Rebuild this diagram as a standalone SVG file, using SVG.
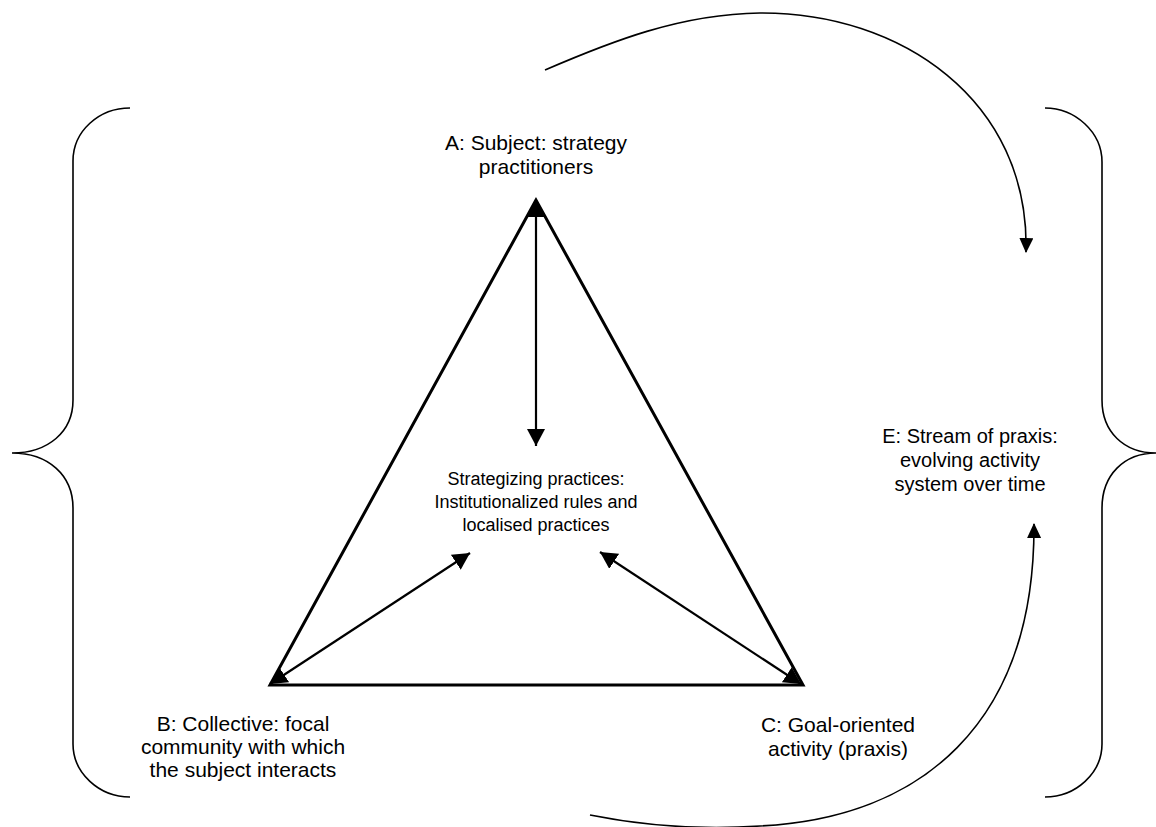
<svg xmlns="http://www.w3.org/2000/svg" width="1156" height="827" viewBox="0 0 1156 827">
  <style>
    .label { font-family: "Liberation Sans", Arial, sans-serif; font-size: 21px; fill: #000; text-anchor: middle; }
    .label-e { font-family: "Liberation Sans", Arial, sans-serif; font-size: 20px; fill: #000; text-anchor: middle; }
    .inner { font-family: "Liberation Sans", Arial, sans-serif; font-size: 18px; fill: #000; text-anchor: middle; }
    .brace { fill: none; stroke: #000; stroke-width: 1.6; }
    .frame { fill: none; stroke: #000; stroke-width: 3; stroke-linejoin: miter; }
    .link { fill: none; stroke: #000; stroke-width: 2.2; }
    .flow { fill: none; stroke: #000; stroke-width: 1.6; }
  </style>
  <defs>
    <marker id="headBig" markerUnits="userSpaceOnUse" markerWidth="18" markerHeight="18" viewBox="0 0 18 18" refX="17" refY="9" orient="auto-start-reverse">
      <path d="M0,0 L17,9 L0,18 z" fill="#000"/>
    </marker>
    <marker id="headSmall" markerUnits="userSpaceOnUse" markerWidth="15" markerHeight="14" viewBox="0 0 15 14" refX="14" refY="7" orient="auto">
      <path d="M0,0 L15,7 L0,14 z" fill="#000"/>
    </marker>
  </defs>

  <!-- outer braces -->
  <g id="brace-left">
    <path class="brace" d="M130,108 C99,108 73,131 73,161 L73,400 C73,432 48,453 12,453 C48,453 73,475 73,508 L73,744 C73,773 99,797 130,797"/>
  </g>
  <g id="brace-right">
    <path class="brace" d="M1045,108 C1075,108 1102,132 1102,162 L1102,400 C1102,432 1124,453 1156,453 C1124,453 1102,475 1102,508 L1102,744 C1102,773 1076,797 1045,797"/>
  </g>

  <!-- activity triangle -->
  <g id="triangle">
    <polygon class="frame" points="536,200 270,685 803,685"/>
  </g>

  <!-- connectors -->
  <g id="connectors">
    <line class="link" x1="536" y1="200" x2="536" y2="446" marker-start="url(#headBig)" marker-end="url(#headBig)"/>
    <line class="link" x1="270" y1="684" x2="470" y2="553" marker-start="url(#headBig)" marker-end="url(#headBig)"/>
    <line class="link" x1="801" y1="684" x2="600" y2="552" marker-start="url(#headBig)" marker-end="url(#headBig)"/>
    <path class="flow" d="M545,70 C610,42 680,14 760,13 C900,12 1030,100 1026,252" marker-end="url(#headSmall)"/>
    <path class="flow" d="M590,815 C640,825 700,830 760,826 C920,818 1035,725 1034,524" marker-end="url(#headSmall)"/>
  </g>

  <!-- labels -->
  <g id="node-a">
    <text class="label" x="536" y="150">A: Subject: strategy</text>
    <text class="label" x="536" y="174">practitioners</text>
  </g>
  <g id="node-center">
    <text class="inner" x="536" y="485">Strategizing practices:</text>
    <text class="inner" x="536" y="508">Institutionalized rules and</text>
    <text class="inner" x="536" y="531">localised practices</text>
  </g>
  <g id="node-b">
    <text class="label" x="243" y="731">B: Collective: focal</text>
    <text class="label" x="243" y="754">community with which</text>
    <text class="label" x="243" y="777">the subject interacts</text>
  </g>
  <g id="node-c">
    <text class="label" x="838" y="732">C: Goal-oriented</text>
    <text class="label" x="838" y="756">activity (praxis)</text>
  </g>
  <g id="node-e">
    <text class="label-e" x="970" y="443">E: Stream of praxis:</text>
    <text class="label-e" x="970" y="467">evolving activity</text>
    <text class="label-e" x="970" y="491">system over time</text>
  </g>
</svg>
